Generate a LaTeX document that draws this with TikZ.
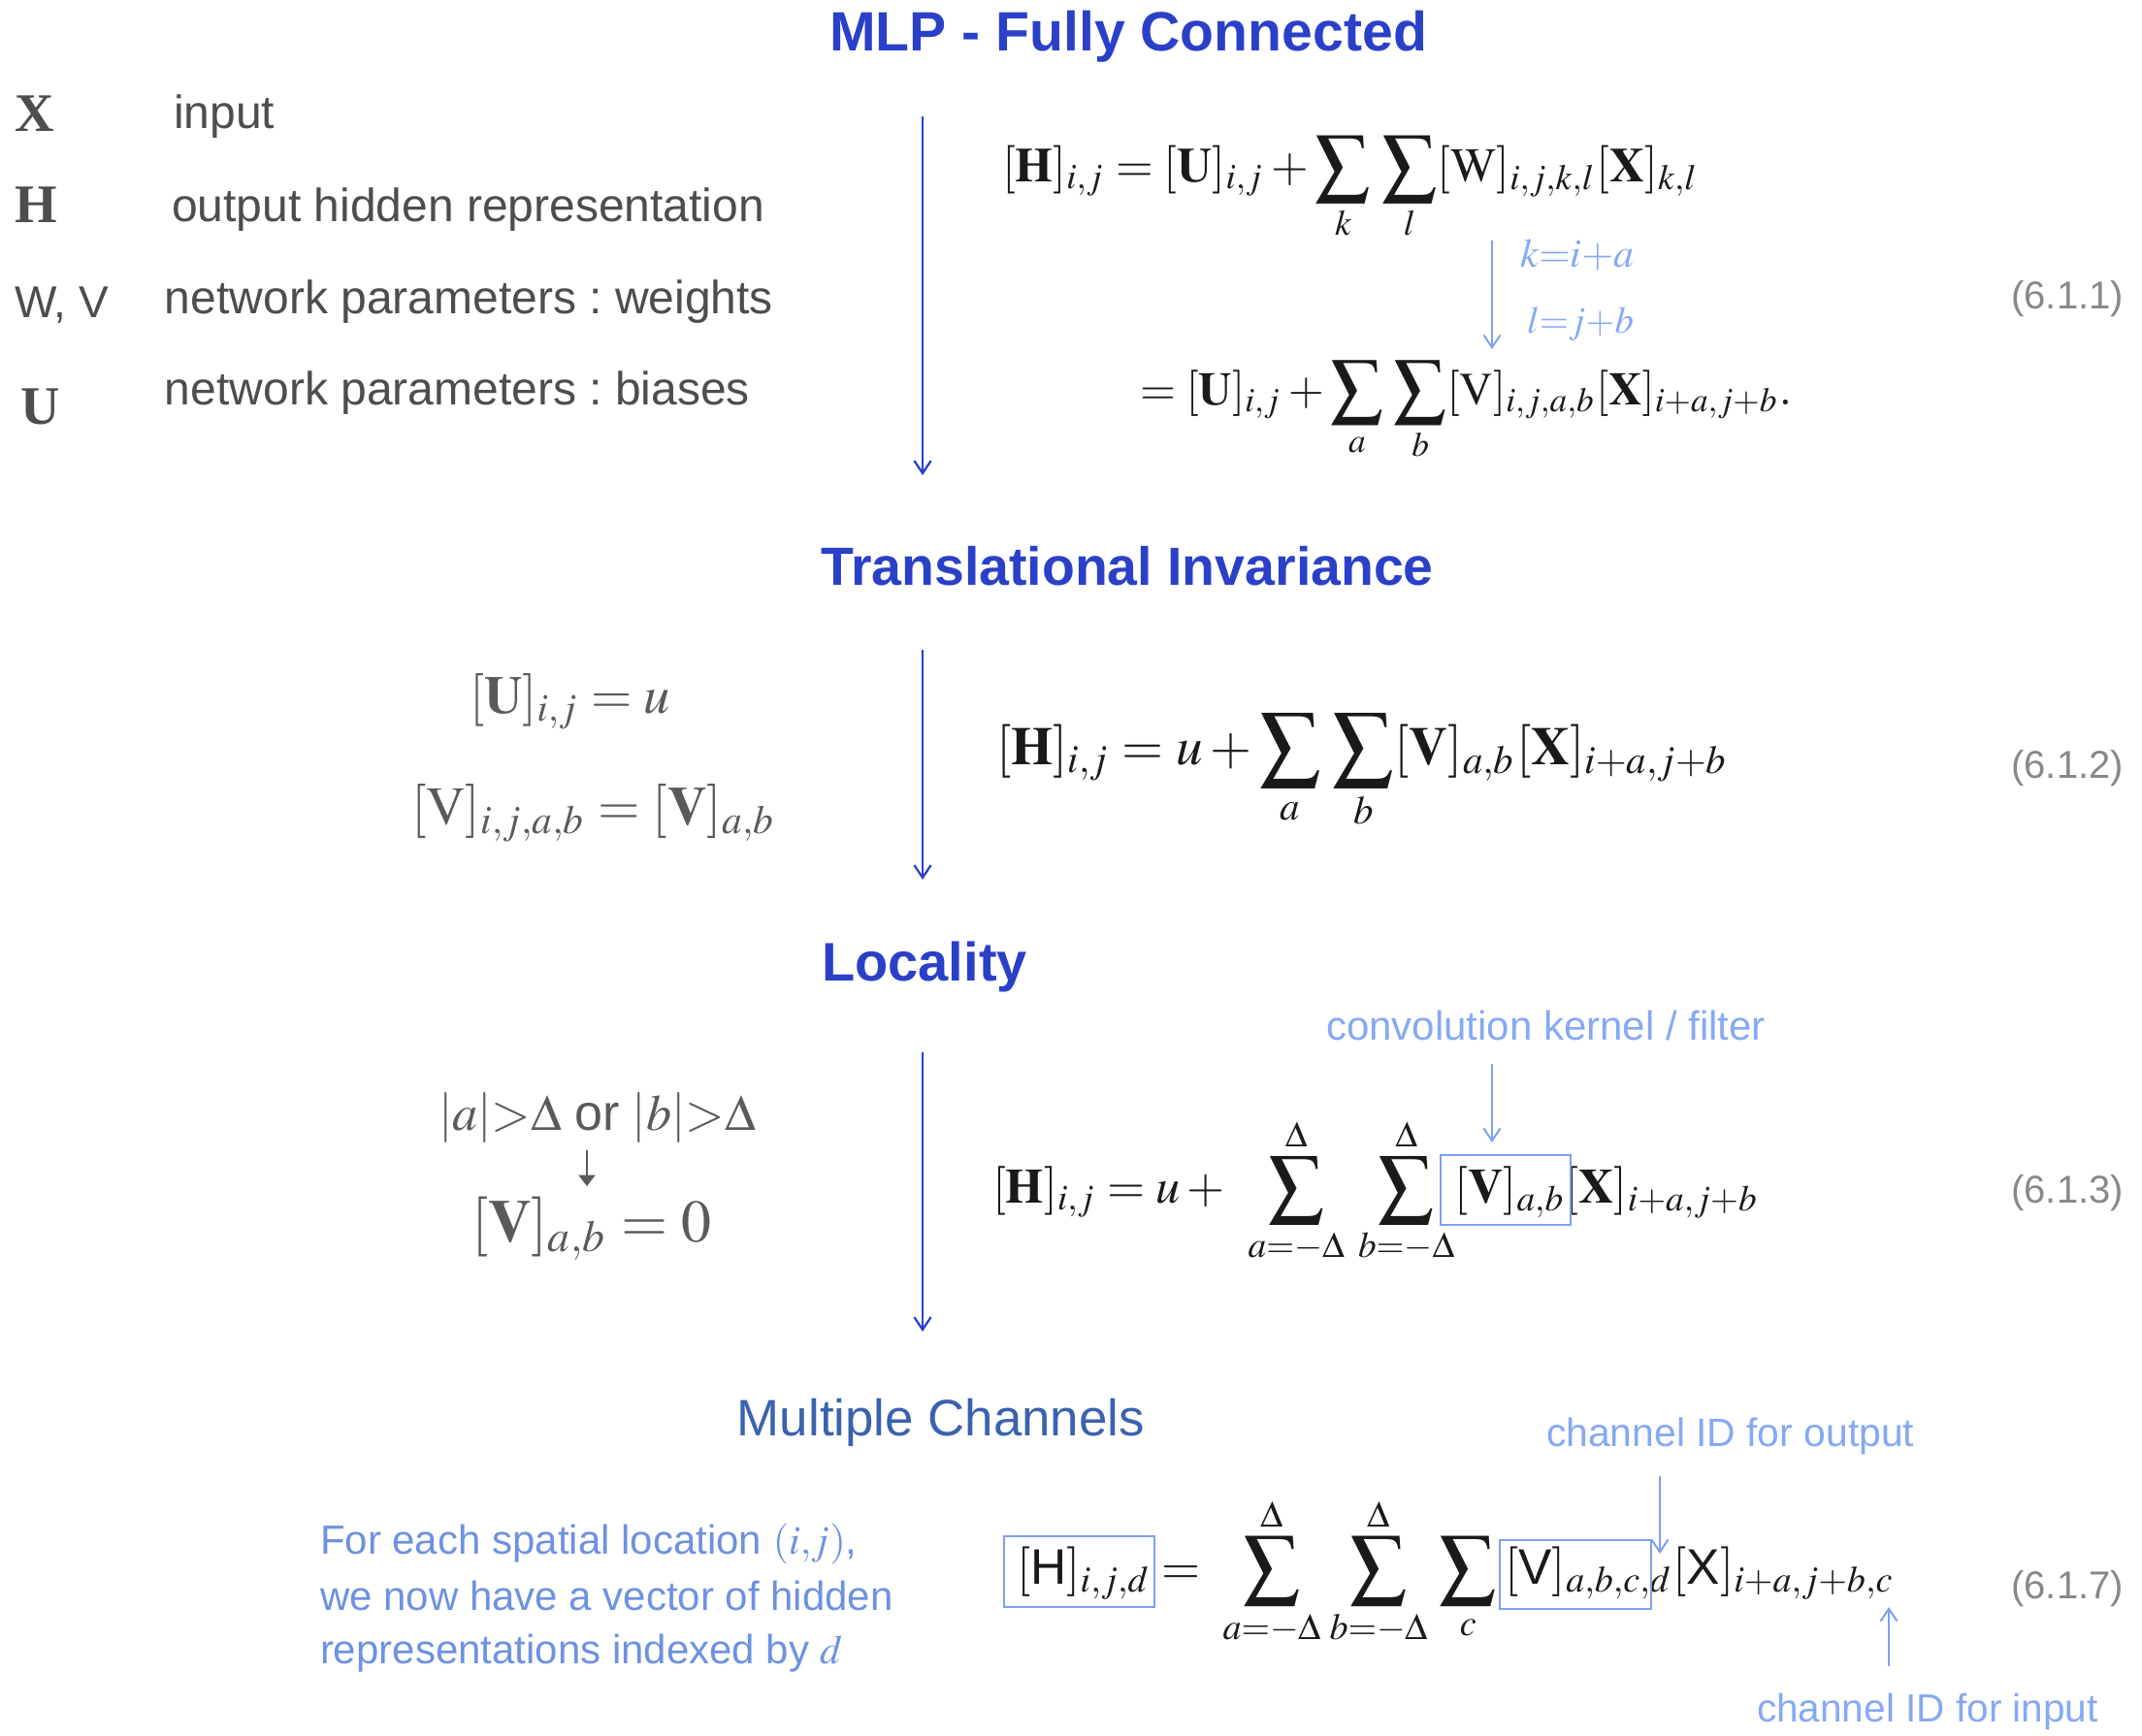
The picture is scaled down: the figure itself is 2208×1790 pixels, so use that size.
\documentclass[tikz,border=0pt]{standalone}
\usepackage{amsmath}
\usepackage{mathptmx}
\usepackage{graphicx}
\usepackage[no-math]{fontspec}
\setmainfont{Liberation Serif}
\setsansfont{Liberation Sans}
\usetikzlibrary{arrows.meta}
\newlength{\pxu}\setlength{\pxu}{0.35pt}
\newcommand{\rw}[2]{\resizebox{#1\pxu}{!}{#2}}
\newcommand{\fsz}[1]{\fontsize{#1}{#1}\selectfont\frenchspacing}
\newcommand{\bsum}{\mathop{\vcenter{\hbox{\scalebox{1.12}{$\displaystyle\sum$}}}}\limits}
\definecolor{tblue}{RGB}{42,64,200}
\definecolor{mcblue}{RGB}{58,98,174}
\definecolor{lblue}{RGB}{134,168,245}
\definecolor{lbox}{RGB}{125,160,240}
\definecolor{tblock}{RGB}{110,145,225}
\definecolor{lgray}{RGB}{77,77,77}
\definecolor{mgray}{RGB}{90,90,90}
\definecolor{ngray}{RGB}{136,136,136}
\definecolor{ink}{RGB}{26,26,26}
\tikzset{
  every node/.style={inner sep=0pt, outer sep=0pt},
  title/.style={anchor=base, text=tblue, font=\sffamily\bfseries\fsz{19.6}},
  ltext/.style={anchor=base west, text=lgray, font=\sffamily\fsz{16.8}},
  lsym/.style={anchor=base west, text=lgray, font=\rmfamily\bfseries\fsz{19.6}},
  eqn/.style={anchor=base west, text=ink},
  leq/.style={anchor=base west, text=mgray},
  eqnum/.style={anchor=base east, text=ngray, font=\sffamily\fsz{14}},
  note/.style={anchor=base west, text=lblue, font=\sffamily\fsz{14.7}},
  flow/.style={draw=tblue, line width=0.8pt, -{Straight Barb[length=4.5pt,width=6pt]}},
  hint/.style={draw=lbox, line width=0.7pt, -{Straight Barb[length=4.5pt,width=6pt]}},
  hbox/.style={draw=lbox, line width=0.8pt, anchor=north west},
  smallarrow/.style={draw=mgray, line width=0.6pt, -{Triangle[length=4pt,width=6pt]}},
}
\begin{document}
\begin{tikzpicture}[x=0.35pt, y=-0.35pt]
\path[use as bounding box] (0,0) rectangle (2208,1790);

% titles
\node[title, font=\sffamily\bfseries\fsz{20}] (t1) at (1163,52) {MLP - Fully Connected};
\node[title, font=\sffamily\bfseries\fsz{19.4}] (t2) at (1162,603) {Translational Invariance};
\node[title] (t3) at (953,1011) {Locality};
\node[title, text=mcblue, font=\sffamily\fsz{18.5}] (t4) at (970,1480) {Multiple Channels};

% legend
\node[lsym] (sX) at (15,135) {X};
\node[ltext] (dX) at (179,133) {input};
\node[lsym] (sH) at (15,229) {H};
\node[ltext] (dH) at (177,228) {output hidden representation};
\node[ltext, font=\sffamily\fsz{16.1}] (sWV) at (15,327) {W, V};
\node[ltext] (dWV) at (170,323) {network parameters : weights};
\node[lsym] (sU) at (21,437) {U};
\node[ltext] (dU) at (170,417) {network parameters : biases};

% flow arrows
\coordinate (f1s) at (951,120); \coordinate (f1e) at (951,490);
\coordinate (f2s) at (951,670); \coordinate (f2e) at (951,907);
\coordinate (f3s) at (951,1085); \coordinate (f3e) at (951,1373);
\draw[flow] (f1s) -- (f1e);
\draw[flow] (f2s) -- (f2e);
\draw[flow] (f3s) -- (f3e);

% equation 6.1.1
\node[eqn] (e1a) at (1033,187) {\rw{718}{$\displaystyle [\mathbf{H}]_{i,j} = [\mathbf{U}]_{i,j} + \bsum_k \,\bsum_l [\mathrm{W}]_{i,j,k,l}[\mathbf{X}]_{k,l}$}};
\node[eqn] (e1b) at (1175,417) {\rw{672}{$\displaystyle = [\mathbf{U}]_{i,j} + \bsum_a \,\bsum_b [\mathrm{V}]_{i,j,a,b}[\mathbf{X}]_{i+a,j+b}.$}};
\coordinate (h1s) at (1538,248); \coordinate (h1e) at (1538,360);
\draw[hint] (h1s) -- (h1e);
\node[anchor=base west, text=lblue] (kia) at (1567,275) {\rw{117}{$k{=}i{+}a$}};
\node[anchor=base west, text=lblue] (ljb) at (1574,343) {\rw{110}{$l{=}j{+}b$}};
\node[eqnum] (n1) at (2189,318) {(6.1.1)};

% translational invariance
\node[leq] (cU) at (484,735) {\rw{207}{$[\mathbf{U}]_{i,j} = u$}};
\node[leq] (cV) at (424,850) {\rw{376}{$[\mathrm{V}]_{i,j,a,b} = [\mathbf{V}]_{a,b}$}};
\node[eqn] (e2) at (1027,788) {\rw{755}{$\displaystyle [\mathbf{H}]_{i,j} = u + \bsum_a\,\bsum_b [\mathbf{V}]_{a,b}[\mathbf{X}]_{i+a,j+b}$}};
\node[eqnum] (n2) at (2189,802) {(6.1.2)};

% locality
\node[leq] (cond) at (452,1165) {\rw{327}{$|a|{>}\Delta$ \textsf{or} $|b|{>}\Delta$}};
\node[leq] (v0) at (486,1280) {\rw{247}{$[\mathbf{V}]_{a,b} = 0$}};
\coordinate (sa1) at (605,1186); \coordinate (sa2) at (605,1223);
\draw[smallarrow] (sa1) -- (sa2);
\node[note] (conv) at (1367,1072) {convolution kernel / filter};
\node[eqn] (e3) at (1023,1240) {\rw{790}{$\displaystyle [\mathbf{H}]_{i,j} = u + \mkern6mu\bsum_{a{=}{-}\Delta}^{\Delta}\mkern3mu\bsum_{b{=}{-}\Delta}^{\Delta} [\mathbf{V}]_{a,b}[\mathbf{X}]_{i+a,j+b}$}};
\node[hbox, minimum width=134\pxu, minimum height=72\pxu] (vbox3) at (1485,1191) {};
\coordinate (c1s) at (1538,1097); \coordinate (c1e) at (1538,1178);
\draw[hint] (c1s) -- (c1e);
\node[eqnum] (n3) at (2189,1240) {(6.1.3)};

% multiple channels
\node[note, text=tblock] (b1) at (330,1602) {For each spatial location $(i{,}j)$,};
\node[note, text=tblock] (b2) at (330,1660) {we now have a vector of hidden};
\node[note, text=tblock] (b3) at (330,1715) {representations indexed by $d$};
\node[eqn] (e4) at (1048,1633) {\rw{905}{$\displaystyle [\textsf{H}]_{i,j,d} = \;\bsum_{a{=}{-}\Delta}^{\Delta}\mkern1mu\bsum_{b{=}{-}\Delta}^{\Delta}\mkern2mu\bsum_c \mkern3mu[\textsf{V}]_{a,b,c,d}[\textsf{X}]_{i+a,j+b,c}$}};
\node[hbox, minimum width=155\pxu, minimum height=73\pxu] (hbox4) at (1035,1584) {};
\node[hbox, minimum width=156\pxu, minimum height=71\pxu] (vbox4) at (1546,1588) {};
\node[note, font=\sffamily\fsz{14.3}] (cout) at (1594,1491) {channel ID for output};
\node[note, font=\sffamily\fsz{14.2}] (cin) at (1811,1775) {channel ID for input};
\coordinate (o1s) at (1711,1522); \coordinate (o1e) at (1711,1602);
\draw[hint] (o1s) -- (o1e);
\coordinate (i1s) at (1947,1718); \coordinate (i1e) at (1947,1657);
\draw[hint] (i1s) -- (i1e);
\node[eqnum] (n4) at (2189,1648) {(6.1.7)};
\end{tikzpicture}
\end{document}
